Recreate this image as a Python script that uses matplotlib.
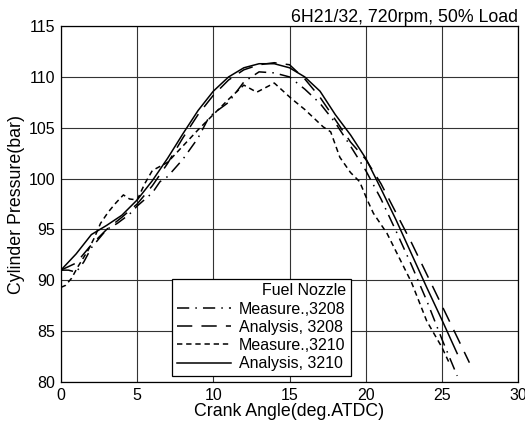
import matplotlib

matplotlib.use("Agg")
import matplotlib.pyplot as plt

plt.rcParams["font.family"] = ["Liberation Sans", "DejaVu Sans"]

# Measure., 3208 (dash-dot)
meas3208_x = [0, 0.5, 1, 1.5, 2, 3, 3.7, 4.5, 5, 6, 6.5, 7, 8, 9, 9.7, 10, 11, 12, 13, 14, 15,
              16, 17, 18, 19, 20, 21, 22, 23, 24, 25, 26]
meas3208_y = [91.0, 91.0, 90.8, 91.8, 93.2, 95.0, 95.6, 96.5, 97.3, 98.6, 99.7, 100.2, 101.9, 104.0,
              106.0, 106.4, 107.5, 109.5, 110.5, 110.4, 110.0, 108.8, 107.4, 105.5, 103.2, 100.8,
              98.0, 94.8, 91.5, 88.0, 84.2, 80.6]

# Analysis, 3208 (long dash)
ana3208_x = [0, 1, 2, 3, 4, 5, 6, 7, 8, 9, 10, 11, 12, 13, 14, 15, 16, 17, 18, 19, 20, 21, 22,
             23, 24, 25, 26, 26.8]
ana3208_y = [91.0, 91.7, 93.5, 95.0, 96.2, 97.5, 99.3, 101.5, 104.0, 106.3, 108.2, 109.7, 110.7,
             111.2, 111.4, 111.2, 109.8, 108.0, 105.8, 103.6, 101.9, 99.5, 96.6, 93.7, 90.6, 87.5,
             84.4, 81.9]

# Measure., 3210 (short dash)
meas3210_x = [0, 0.3, 0.7, 1.1, 1.8, 2.2, 2.6, 3.1, 3.6, 4.1, 4.5, 5, 5.5, 6, 7, 8, 9, 10, 11, 12,
              12.85, 14, 15.1, 16, 17.2, 17.7, 18.3, 19, 19.6, 20.1, 20.5, 21.4, 22, 23, 24, 25,
              25.5]
meas3210_y = [89.3, 89.5, 90.2, 91.3, 93.0, 94.2, 95.6, 96.7, 97.6, 98.4, 98.0, 97.9, 99.5, 100.8,
              101.6, 103.2, 104.8, 106.3, 107.8, 109.2, 108.5, 109.4, 107.9, 106.8, 105.1, 104.6,
              102.1, 100.6, 99.7, 97.9, 96.6, 94.6, 92.8, 89.8, 86.0, 83.4, 81.8]

# Analysis, 3210 (solid)
ana3210_x = [0, 1, 2, 3, 4, 5, 6, 7, 8, 9, 10, 11, 12, 13, 14, 15, 16, 17, 18, 19, 20, 21, 22,
             23, 24, 25, 26]
ana3210_y = [91.0, 92.6, 94.5, 95.4, 96.4, 97.9, 99.8, 102.0, 104.4, 106.7, 108.6, 110.0, 110.9,
             111.3, 111.3, 110.9, 110.0, 108.6, 106.3, 104.3, 102.0, 99.0, 95.9, 92.6, 89.3, 86.1,
             82.8]

fig = plt.figure(figsize=(5.25, 4.28), dpi=100)
ax = fig.add_axes([0.116, 0.1075, 0.871, 0.8315])

lw = 1.1
ax.plot(meas3208_x, meas3208_y, color="black", lw=lw, ls=(0, (8, 4, 1, 4)), label="Measure.,3208")
ax.plot(ana3208_x, ana3208_y, color="black", lw=lw, ls=(0, (10, 6)), label="Analysis, 3208")
ax.plot(meas3210_x, meas3210_y, color="black", lw=lw, ls=(0, (3.5, 2.5)), label="Measure.,3210")
ax.plot(ana3210_x, ana3210_y, color="black", lw=lw, ls="-", label="Analysis, 3210")

ax.set_xlim(0, 30)
ax.set_ylim(80, 115)
ax.set_xticks(range(0, 31, 5))
ax.set_yticks(range(80, 116, 5))
ax.tick_params(length=0, labelsize=11.5, pad=4)
ax.grid(True, color="#333333", lw=0.8)
ax.set_axisbelow(True)
for s in ax.spines.values():
    s.set_color("black")
    s.set_linewidth(0.9)

ax.set_xlabel("Crank Angle(deg.ATDC)", fontsize=12.8, labelpad=0)
ax.set_ylabel("Cylinder Pressure(bar)", fontsize=12.8, labelpad=3)
ax.set_title("6H21/32, 720rpm, 50% Load", loc="right", fontsize=12.8, pad=3)

leg = ax.legend(title="Fuel Nozzle", loc="lower left", bbox_to_anchor=(0.243, 0.017),
                borderaxespad=0, fontsize=11.5, title_fontsize=11.5, handlelength=3.4,
                frameon=True, fancybox=False, edgecolor="black", framealpha=1, borderpad=0.3,
                labelspacing=0.2, handletextpad=0.5, alignment="right")
leg.get_frame().set_linewidth(0.9)

fig.savefig("out.png", dpi=100)
